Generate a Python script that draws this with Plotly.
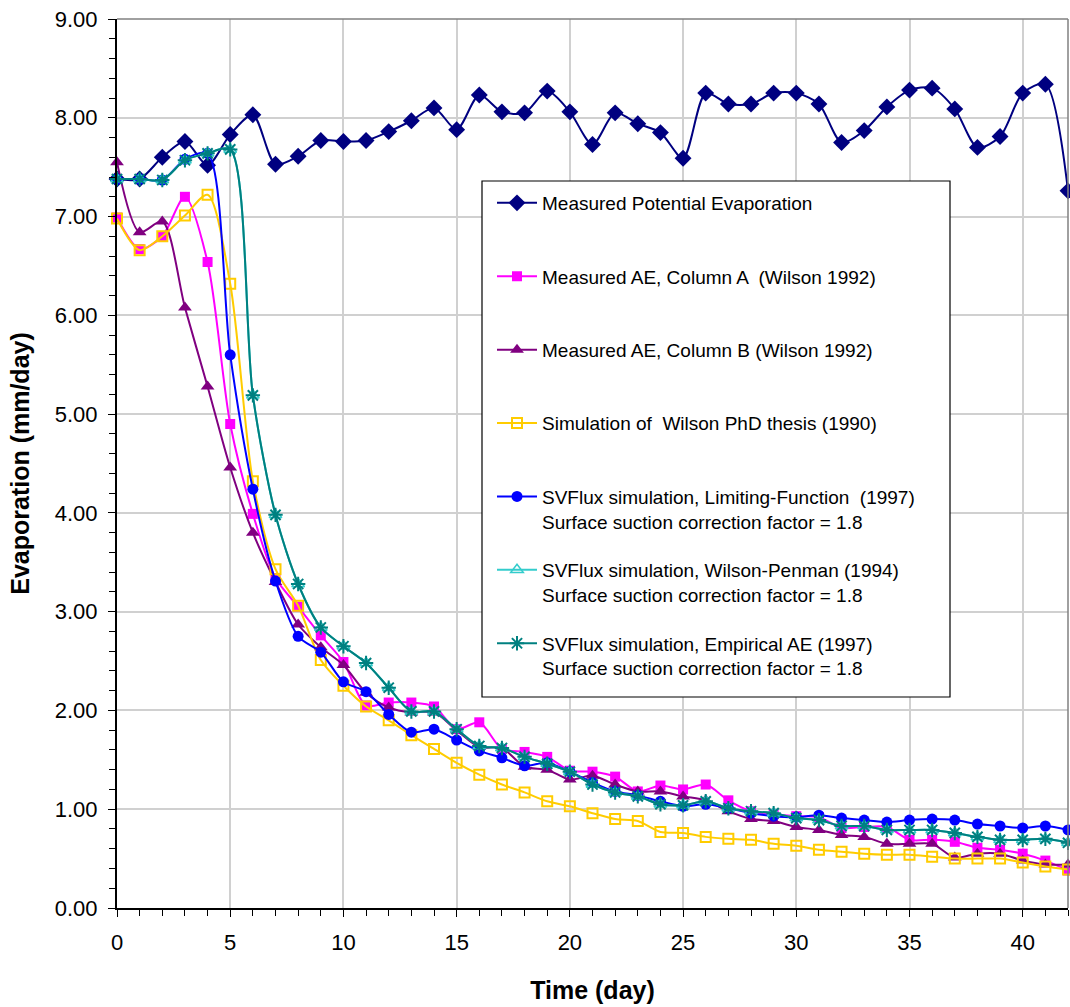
import plotly.graph_objects as go

days = list(range(0, 43))

pe_measured = [7.38, 7.38, 7.60, 7.76, 7.52, 7.83, 8.03, 7.53, 7.61, 7.77,
               7.76, 7.77, 7.86, 7.97, 8.10, 7.88, 8.23, 8.06, 8.05, 8.27,
               8.06, 7.73, 8.05, 7.94, 7.85, 7.59, 8.25, 8.14, 8.14, 8.25,
               8.25, 8.14, 7.75, 7.87, 8.11, 8.28, 8.30, 8.09, 7.70, 7.81,
               8.25, 8.34, 7.26]

ae_col_a = [6.99, 6.67, 6.80, 7.20, 6.54, 4.90, 3.99, 3.34, 3.05, 2.76,
            2.49, 2.05, 2.08, 2.08, 2.04, 1.81, 1.88, 1.61, 1.58, 1.53,
            1.39, 1.38, 1.33, 1.18, 1.24, 1.20, 1.25, 1.09, 0.98, 0.95,
            0.93, 0.92, 0.81, 0.82, 0.82, 0.69, 0.69, 0.67, 0.61, 0.59,
            0.55, 0.48, 0.38]

ae_col_b = [7.55, 6.84, 6.95, 6.08, 5.28, 4.46, 3.80, 3.30, 2.87, 2.64,
            2.46, 2.18, 2.03, 1.98, 1.98, 1.80, 1.63, 1.62, 1.43, 1.40,
            1.30, 1.34, 1.25, 1.18, 1.18, 1.13, 1.09, 0.98, 0.90, 0.88,
            0.82, 0.79, 0.74, 0.72, 0.65, 0.65, 0.65, 0.51, 0.55, 0.55,
            0.48, 0.44, 0.44]

wilson_thesis = [6.98, 6.66, 6.80, 7.01, 7.22, 6.32, 4.32, 3.43, 3.06, 2.51,
                 2.25, 2.04, 1.90, 1.75, 1.61, 1.47, 1.35, 1.25, 1.17, 1.08,
                 1.03, 0.96, 0.90, 0.88, 0.77, 0.76, 0.72, 0.70, 0.69, 0.65,
                 0.63, 0.59, 0.57, 0.55, 0.54, 0.54, 0.52, 0.50, 0.50, 0.50,
                 0.46, 0.42, 0.39]

limiting_fn = [7.38, 7.38, 7.37, 7.58, 7.64, 5.60, 4.24, 3.31, 2.75, 2.59,
               2.29, 2.19, 1.96, 1.78, 1.81, 1.70, 1.59, 1.52, 1.44, 1.47,
               1.38, 1.27, 1.18, 1.14, 1.08, 1.03, 1.05, 1.01, 0.96, 0.93,
               0.92, 0.94, 0.91, 0.89, 0.87, 0.89, 0.90, 0.89, 0.85, 0.83,
               0.81, 0.83, 0.79]

wilson_penman = [7.38, 7.38, 7.37, 7.57, 7.64, 7.68, 5.19, 3.98, 3.28, 2.84,
                 2.65, 2.48, 2.23, 1.99, 1.99, 1.81, 1.64, 1.62, 1.53, 1.46,
                 1.38, 1.25, 1.17, 1.13, 1.05, 1.04, 1.08, 1.01, 0.98, 0.96,
                 0.91, 0.89, 0.83, 0.83, 0.79, 0.79, 0.79, 0.76, 0.72, 0.69,
                 0.69, 0.70, 0.66]

empirical_ae = [7.38, 7.38, 7.37, 7.57, 7.64, 7.68, 5.19, 3.98, 3.28, 2.84,
                2.65, 2.48, 2.23, 1.99, 1.99, 1.81, 1.64, 1.62, 1.53, 1.46,
                1.38, 1.25, 1.17, 1.13, 1.05, 1.04, 1.08, 1.01, 0.98, 0.96,
                0.91, 0.89, 0.83, 0.83, 0.79, 0.79, 0.79, 0.76, 0.72, 0.69,
                0.69, 0.70, 0.66]

NB = "\u00a0"
series = [
    ("Measured Potential Evaporation<br>" + NB, pe_measured, "#000080",
     dict(symbol="diamond", size=13)),
    ("Measured AE, Column A " + NB + "(Wilson 1992)<br>" + NB, ae_col_a, "#FF00FF",
     dict(symbol="square", size=10)),
    ("Measured AE, Column B (Wilson 1992)<br>" + NB, ae_col_b, "#800080",
     dict(symbol="triangle-up", size=12)),
    ("Simulation of " + NB + "Wilson PhD thesis (1990)<br>" + NB, wilson_thesis, "#FFCC00",
     dict(symbol="square-open", size=10, line=dict(width=2, color="#FFCC00"))),
    ("SVFlux simulation, Limiting-Function " + NB + "(1997)<br>Surface suction correction factor = 1.8",
     limiting_fn, "#0000FF", dict(symbol="circle", size=11)),
    ("SVFlux simulation, Wilson-Penman (1994)<br>Surface suction correction factor = 1.8",
     wilson_penman, "#33CCCC",
     dict(symbol="triangle-up-open", size=11, line=dict(width=1.5, color="#33CCCC"))),
    ("SVFlux simulation, Empirical AE (1997)<br>Surface suction correction factor = 1.8",
     empirical_ae, "#008080",
     dict(symbol="asterisk-open", size=12, line=dict(width=2, color="#008080"))),
]

fig = go.Figure()
for i, (name, vals, color, marker) in enumerate(series):
    mk = dict(color=color)
    mk.update(marker)
    fig.add_trace(go.Scatter(
        x=days, y=vals, name=name, mode="lines+markers",
        line=dict(color=color, width=2, shape="spline", smoothing=0.8),
        marker=mk, legendgroup="g%d" % i, cliponaxis=False,
    ))

FONT = "Liberation Sans, Arial, sans-serif"

FIG_W, FIG_H = 1070, 1007
# plot area in page pixels: x 117..1068, y 19..908
L, R, T, B = 117, 1068, 19, 908
W, H = R - L, B - T

def px_x(p):
    return (p - L) / W

def px_y(p):
    return (B - p) / H

shapes = [
    # legend box
    dict(type="rect", xref="paper", yref="paper",
         x0=px_x(482), x1=px_x(950), y0=px_y(697), y1=px_y(181),
         fillcolor="white", line=dict(color="#000000", width=1.2), layer="above"),
    # top and right plot-area border
    dict(type="line", xref="paper", yref="paper", x0=0, x1=1, y0=1, y1=1,
         line=dict(color="#808080", width=1.5), layer="above"),
    dict(type="line", xref="paper", yref="paper", x0=1, x1=1, y0=0, y1=1,
         line=dict(color="#808080", width=1.5), layer="above"),
]

fig.update_layout(
    width=FIG_W, height=FIG_H,
    margin=dict(l=L, r=FIG_W - R, t=T, b=FIG_H - B),
    paper_bgcolor="white", plot_bgcolor="white",
    font=dict(family=FONT, color="#000000"),
    showlegend=True,
    legend=dict(
        x=px_x(492), y=px_y(184), xanchor="left", yanchor="top",
        bgcolor="rgba(0,0,0,0)", borderwidth=0,
        font=dict(size=19, family=FONT),
        tracegroupgap=21, valign="top", itemwidth=40,
    ),
    shapes=shapes,
    xaxis=dict(
        range=[0, 42], dtick=5, tick0=0,
        showgrid=True, gridcolor="#D0D0D0", gridwidth=1.5,
        showline=True, linecolor="#000000", linewidth=2,
        ticks="outside", ticklen=7, tickcolor="#000000", tickwidth=1,
        tickfont=dict(size=22, family=FONT), ticklabelstandoff=7,
        ticklabeloverflow="allow",
        minor=dict(dtick=1, ticks="outside", ticklen=6, tickcolor="#000000", showgrid=False),
        zeroline=False,
        title=dict(text="<b>Time (day)</b>", font=dict(size=25, family=FONT), standoff=27),
    ),
    yaxis=dict(
        range=[0, 9], dtick=1, tick0=0, tickformat=".2f",
        showgrid=True, gridcolor="#D0D0D0", gridwidth=1.5,
        showline=True, linecolor="#000000", linewidth=2,
        ticks="outside", ticklen=7, tickcolor="#000000", tickwidth=1,
        tickfont=dict(size=22, family=FONT), ticklabelstandoff=6,
        ticklabeloverflow="allow",
        minor=dict(dtick=0.2, ticks="outside", ticklen=6, tickcolor="#000000", showgrid=False),
        zeroline=False,
        title=dict(text="<b>Evaporation (mm/day)</b>", font=dict(size=25, family=FONT), standoff=18),
    ),
)

fig.write_html(
    "out.html",
    config={"displayModeBar": False},
    post_script="document.body.style.margin='0';document.body.style.overflow='hidden';",
)
